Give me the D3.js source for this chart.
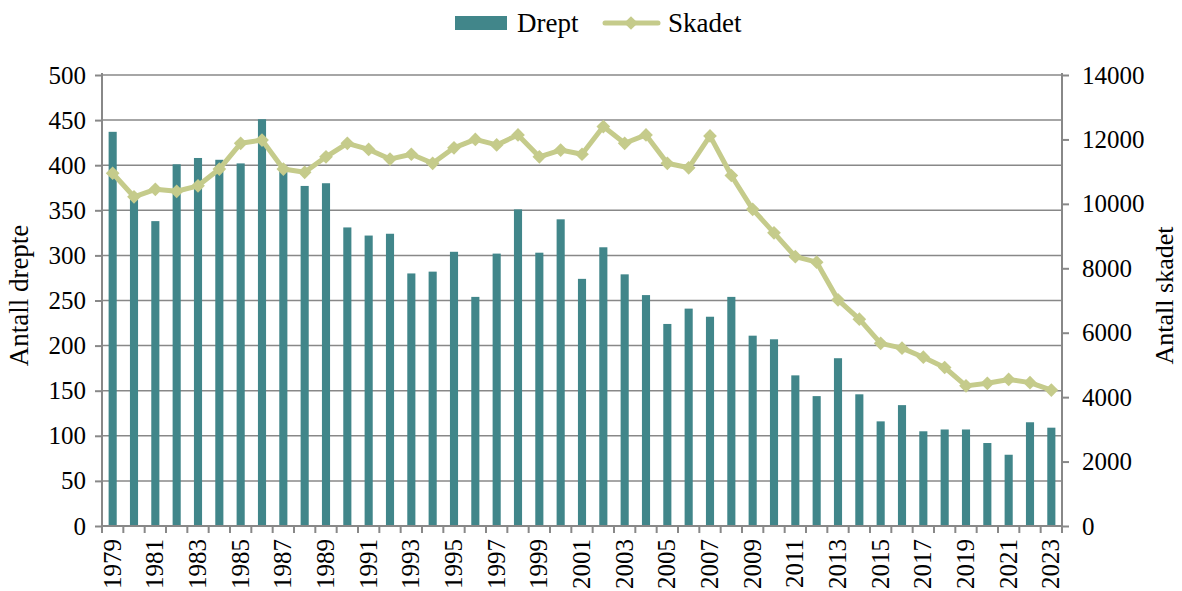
<!DOCTYPE html>
<html>
<head>
<meta charset="utf-8">
<script src="https://cdn.jsdelivr.net/npm/d3@7"></script>
<style>
  body { margin: 0; background: #fff; }
  text { font-family: "Liberation Serif", "DejaVu Serif", serif; fill: #000; }
</style>
</head>
<body>
<div id="chart"></div>
<script>
// data
var years = d3.range(1979, 2024);
var drept = [437, 362, 338, 401, 408, 406, 402, 451, 395, 377, 380, 331, 322, 324, 280, 282,
             304, 254, 302, 351, 303, 340, 274, 309, 279, 256, 224, 241, 232, 254, 211, 207,
             167, 144, 186, 146, 116, 134, 105, 107, 107, 92, 79, 115, 109];
var skadet = [10950, 10220, 10450, 10390, 10560, 11080, 11880, 11980, 11080, 10980, 11460, 11880,
              11690, 11390, 11540, 11260, 11740, 12000, 11830, 12140, 11460, 11670, 11540, 12400,
              11880, 12140, 11260, 11120, 12110, 10880, 9830, 9100, 8360, 8190, 7020, 6420,
              5670, 5520, 5240, 4920, 4350, 4430, 4550, 4450, 4220];
var leftTicks = d3.range(0, 501, 50);
var rightTicks = d3.range(0, 14001, 2000);

var W = 1182, H = 591;
var margin = {top: 75, right: 120, bottom: 65, left: 102};
var iw = W - margin.left - margin.right, ih = H - margin.top - margin.bottom;
var barColor = "#41868a", lineColor = "#c5cb8b", gridColor = "#888";

var svg = d3.select("#chart").append("svg").attr("width", W).attr("height", H);
var g = svg.append("g").attr("transform", "translate(" + margin.left + "," + margin.top + ")");

var x = d3.scaleBand().domain(years).range([0, iw]).paddingInner(0.62).paddingOuter(0.31);
var yL = d3.scaleLinear().domain([0, 500]).range([ih, 0]);
var yR = d3.scaleLinear().domain([0, 14000]).range([ih, 0]);

// gridlines
g.append("g").selectAll("line").data(leftTicks.slice(1)).enter().append("line")
  .attr("x1", 0).attr("x2", iw)
  .attr("y1", function(d) { return yL(d); }).attr("y2", function(d) { return yL(d); })
  .attr("stroke", gridColor).attr("stroke-width", 1.5);

// bars
g.append("g").selectAll("rect").data(years).enter().append("rect")
  .attr("x", function(d) { return x(d); })
  .attr("y", function(d, i) { return yL(drept[i]); })
  .attr("width", x.bandwidth())
  .attr("height", function(d, i) { return ih - yL(drept[i]); })
  .attr("fill", barColor);

// line + markers
var line = d3.line()
  .x(function(d, i) { return x(years[i]) + x.bandwidth() / 2; })
  .y(function(d) { return yR(d); });
g.append("path").datum(skadet).attr("d", line)
  .attr("fill", "none").attr("stroke", lineColor).attr("stroke-width", 5)
  .attr("stroke-linejoin", "round");
var diamond = d3.symbol().type(d3.symbolDiamond2).size(120);
g.append("g").selectAll("path").data(skadet).enter().append("path")
  .attr("d", diamond)
  .attr("transform", function(d, i) {
    return "translate(" + (x(years[i]) + x.bandwidth() / 2) + "," + yR(d) + ")";
  })
  .attr("fill", lineColor);

// axes
var axL = g.append("g").call(d3.axisLeft(yL).tickValues(leftTicks).tickSize(7).tickPadding(9));
var axR = g.append("g").attr("transform", "translate(" + iw + ",0)")
  .call(d3.axisRight(yR).tickValues(rightTicks).tickFormat(d3.format("d")).tickSize(7).tickPadding(13));
[axL, axR].forEach(function(a) {
  a.selectAll("path, line").attr("stroke", gridColor).attr("stroke-width", 2);
  a.select(".domain").attr("d", "M0,-2V" + ih);
  a.selectAll("text").style("font-size", "25px").style("font-family", "Liberation Serif, serif");
});

// x axis
var xa = g.append("g").attr("transform", "translate(0," + ih + ")");
xa.append("line").attr("x1", 0).attr("x2", iw).attr("stroke", gridColor).attr("stroke-width", 2);
var step = x.step();
xa.selectAll("line.t").data(d3.range(years.length + 1)).enter().append("line")
  .attr("class", "t")
  .attr("x1", function(i) { return i * step; }).attr("x2", function(i) { return i * step; })
  .attr("y1", 0).attr("y2", 7).attr("stroke", gridColor).attr("stroke-width", 2);
xa.selectAll("text").data(years.filter(function(d) { return (d - 1979) % 2 === 0; })).enter().append("text")
  .attr("transform", function(d) {
    return "translate(" + (x(d) + x.bandwidth() / 2 + 8) + ",13) rotate(-90)";
  })
  .attr("text-anchor", "end")
  .style("font-size", "25px")
  .text(function(d) { return d; });

// axis titles
svg.append("text").attr("transform", "translate(28," + (margin.top + ih / 2 - 5) + ") rotate(-90)")
  .attr("text-anchor", "middle").style("font-size", "27px").text("Antall drepte");
svg.append("text").attr("transform", "translate(1173," + (margin.top + ih / 2 - 5) + ") rotate(-90)")
  .attr("text-anchor", "middle").style("font-size", "26px").text("Antall skadet");

// legend
var lg = svg.append("g");
lg.append("rect").attr("x", 455).attr("y", 16).attr("width", 52).attr("height", 14).attr("fill", barColor);
lg.append("text").attr("x", 517).attr("y", 32).style("font-size", "27px").text("Drept");
lg.append("line").attr("x1", 605).attr("x2", 658).attr("y1", 23).attr("y2", 23)
  .attr("stroke", lineColor).attr("stroke-width", 5).attr("stroke-linecap", "round");
lg.append("path").attr("d", diamond).attr("transform", "translate(631,23)").attr("fill", lineColor);
lg.append("text").attr("x", 668).attr("y", 32).style("font-size", "27px").text("Skadet");
</script>
</body>
</html>
